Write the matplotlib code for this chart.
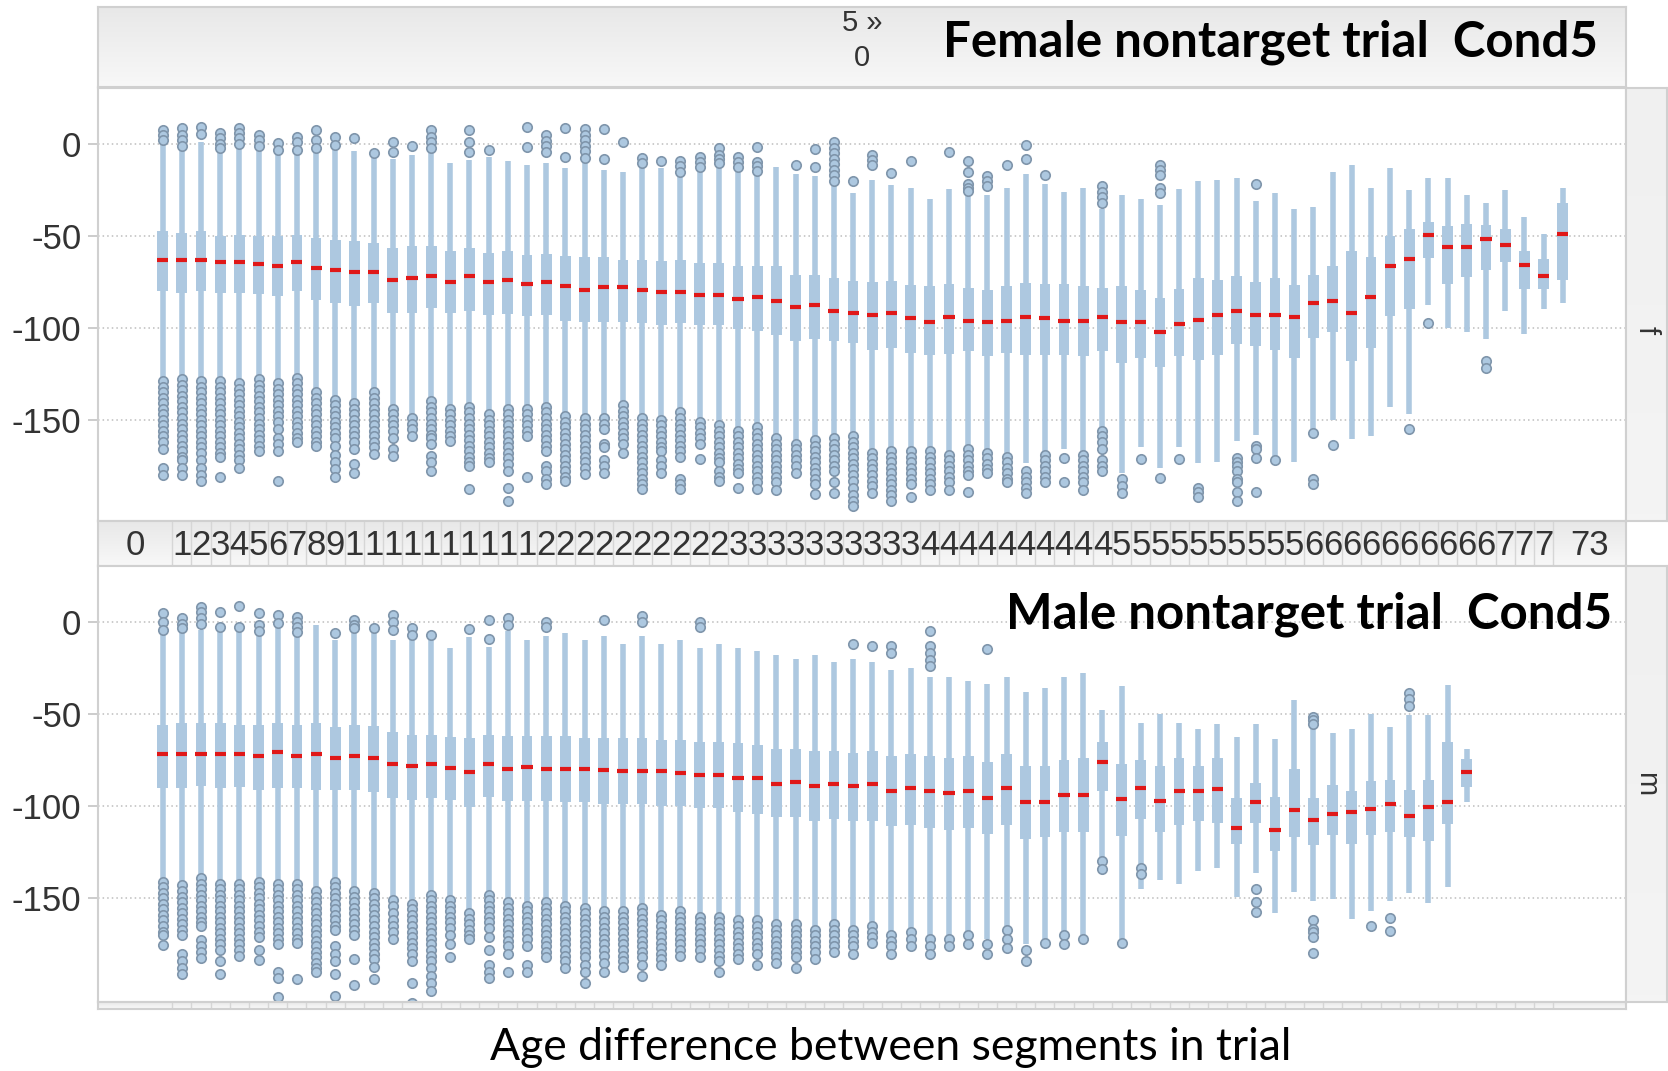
import numpy as np
import matplotlib
matplotlib.use('Agg')
import matplotlib.pyplot as plt
from matplotlib import font_manager as fm

# ---- data: box statistics per age difference (female panel: 0..73, male: 0..68)
f_hi = [1, -1, 1, -3, -1, -1, -3, -3, -2, -1,
        -4, -6, -8, -6, -3, -10.5, -8.7, -6.9, -9.2, -11.4,
        -10.5, -13.2, -9.6, -14.3, -15.4, -12, -13.2, -15.9, -13, -12,
        -13, -15, -12.3, -16.5, -17.2, -21.9, -26.8, -19.5, -22.6, -23.7,
        -30, -24.6, -26.8, -27.7, -23.7, -16.5, -21.7, -25.9, -23.7, -35.3,
        -27.7, -30, -33.1, -24.6, -20.4, -19.5, -18.6, -31.3, -26.8, -35.3,
        -34.4, -15.4, -11.4, -23.7, -13.2, -25, -18.6, -18.6, -28, -32.2,
        -25, -39.6, -49, -24]
f_q3 = [-47.6, -48.5, -47.6, -50.3, -49.4, -50, -50.3, -49.4, -51.2, -52,
        -53, -53.9, -56.6, -55.7, -55.7, -58.4, -56.6, -59.3, -58, -60.6,
        -59.9, -60.8, -61.7, -61.7, -62.9, -62.9, -63.8, -62.9, -64.7, -64.7,
        -66.5, -66.5, -66.5, -71, -71, -72.9, -74.3, -75, -74.3, -76.9,
        -77.4, -76.1, -78.3, -79.2, -77.4, -75.6, -76.1, -76.1, -77.4, -78.3,
        -77.4, -79.2, -83.7, -78.7, -72.9, -73.8, -72, -75.2, -72.9, -76.5,
        -71, -66.5, -58.4, -61.7, -50.3, -46, -42.5, -44.8, -43.6, -44,
        -46, -58.4, -62.6, -32.2]
f_med = [-63.3, -63.3, -63.3, -64.4, -64.4, -65.5, -66.5, -64.4, -67.4, -68.5,
         -69.6, -69.6, -73.8, -72.9, -71.6, -75, -71.6, -75, -74, -76,
         -75, -77, -79.2, -78, -78, -79.2, -80.3, -80.3, -82.3, -82.3,
         -84.3, -83.4, -85.5, -88.6, -87.5, -90.6, -91.9, -92.8, -91.9, -94.9,
         -96.9, -94, -96, -96.9, -96, -94, -94.9, -96, -96, -94,
         -96.9, -96.9, -102.2, -98, -95.8, -92.8, -90.6, -92.8, -92.8, -93.9,
         -86.4, -85.5, -91.9, -83.4, -66.5, -62.4, -49.7, -56, -56, -51.7,
         -55, -65.6, -71.8, -48.8]
f_q1 = [-80.1, -81, -80, -81, -81, -81.5, -82.8, -80, -84.6, -86.4,
        -88.2, -86.4, -91.9, -91.9, -89.2, -91.9, -91, -92.8, -92.4, -93.7,
        -92.8, -96, -96.7, -96.7, -96.7, -97.2, -98.2, -97.2, -98.2, -98.2,
        -100.4, -101.8, -104, -107.2, -106.3, -107.2, -108.1, -111.8, -110.8, -113.6,
        -114.5, -114.1, -112.7, -115.4, -113.6, -114.5, -114.5, -114.5, -115.4, -112.7,
        -119, -116.3, -121.3, -115.4, -117.7, -114.5, -109, -109.6, -111.8, -116.6,
        -105.4, -102, -118, -110.8, -93.7, -89.5, -62, -76.1, -72.5, -68.4,
        -64.4, -78.8, -78.7, -73.8]
f_lo = [-127, -127, -127, -128, -129, -127, -129, -126, -134, -138,
        -140, -134, -143, -147, -139, -143, -142, -146, -143, -143,
        -142.5, -147, -148.5, -148, -141.6, -148.8, -149.7, -145, -150.6, -152.4,
        -155, -153.3, -159.7, -162.4, -160.6, -159.7, -158.8, -167.8, -166.9, -166.9,
        -166.9, -168.7, -166, -167.8, -169.6, -173.2, -168.7, -166, -168.7, -155,
        -178.7, -165, -176, -164.7, -173.2, -173, -161.5, -158.4, -170.5, -173,
        -156, -150, -160.6, -158.8, -143, -147, -87.3, -100, -102, -106.3,
        -90.6, -103.3, -89.5, -86.4]
f_out = [
    [7.6, 4.9, 2.2, -129, -132, -135, -138, -141, -144, -147, -150, -153, -156, -159, -162, -166, -176, -180],
    [8.5, 5, 2, -1.4, -128, -131, -134, -137, -140, -143, -146, -149, -152, -155, -158, -161, -164, -167, -170, -172, -176, -180],
    [9.4, 5.2, -129, -132, -135, -138, -141, -144, -147, -150, -153, -156, -159, -162, -165, -168, -172, -176, -180, -183],
    [5.8, 3, 0, -2.4, -129, -132, -135, -138, -141, -144, -147, -150, -153, -156, -159, -162, -165, -168, -170, -181],
    [8.5, 6, 3, 0, -130, -133, -136, -139, -142, -145, -148, -151, -154, -157, -160, -163, -166, -169, -172, -176],
    [4.9, 2, -1.4, -128, -131, -134, -137, -140, -143, -146, -149, -152, -155, -158, -161, -164, -167],
    [0.4, -3.3, -130, -133, -136, -139, -142, -145, -148, -151, -155, -160, -163, -167, -183],
    [4, 1, -3.3, -127, -130, -133, -136, -139, -142, -145, -148, -151, -154, -157, -160, -162],
    [7.6, 2.2, -2.4, -135, -138, -141, -144, -147, -150, -153, -156, -159, -162, -164],
    [4, -0.5, -139, -142, -145, -148, -151, -154, -157, -160, -164, -169, -173, -177, -181],
    [3.4, -141, -144, -147, -150, -153, -156, -159, -162, -166, -174, -178.7],
    [-5, -135, -138, -141, -144, -147, -150, -153, -156, -159, -162, -165, -168.7],
    [1.3, -4.2, -144, -147, -150, -153, -156, -160, -166, -169.6],
    [-0.9, -149, -152, -155, -158.8],
    [7.6, 4, 1, -2, -140, -143, -146, -149, -152, -155, -158, -160, -163, -169.6, -173, -177.8],
    [-144, -147, -150, -153, -156, -159, -161.5],
    [7.6, 1.3, -4.2, -143, -146, -149, -152, -155, -158, -161, -164, -167, -170, -173, -175, -187.7],
    [-3.3, -147, -150, -153, -156, -159, -162, -165, -168, -171, -173],
    [-144, -147, -150, -153, -156, -159, -162, -165, -168, -171, -174, -178, -187, -194],
    [9.4, -1.8, -144, -147, -150, -153, -156, -159, -181],
    [4.9, 1.6, -1.3, -4.2, -143, -146, -149, -152, -155, -158, -161, -164, -167, -175, -178, -182, -185],
    [8.5, -7.2, -148, -151, -154, -157, -160, -163, -166, -169, -172, -175, -178, -181, -183],
    [8, 5, 2, -1, -4, -7.4, -149, -152, -155, -158, -161, -164, -167, -170, -173, -176, -179.6],
    [8, -8.1, -149, -152, -155, -163, -165, -172, -175, -178.7],
    [1.3, -142, -145, -148, -151, -154, -157, -160, -163, -167.8],
    [-7.8, -10.5, -149, -152, -155, -158, -161, -164, -167, -170, -173, -176, -179, -182, -185, -187.7],
    [-9.2, -150, -153, -156, -159, -162, -165, -167, -172, -175, -179],
    [-9.2, -12, -15.4, -146, -149, -152, -155, -158, -161, -164, -167, -170, -182, -185, -187.7],
    [-6.9, -9.6, -12.3, -151, -154, -157, -160, -163, -171.4],
    [-2.4, -6, -8, -10.5, -153, -156, -159, -162, -165, -168, -171, -173, -177.8, -181, -183],
    [-6.9, -9.6, -12.3, -156, -159, -162, -165, -168, -171, -174, -177, -179, -186.8],
    [-1.8, -9.6, -12, -14.6, -154, -157, -160, -163, -166, -169, -172, -175, -178, -181, -184, -187.7],
    [-160, -163, -166, -169, -172, -175, -178, -181, -184, -188],
    [-11.4, -163, -166, -169, -172, -175, -178.7],
    [-2.7, -12.3, -161, -164, -167, -170, -173, -176, -179, -182, -185, -190.4],
    [1.3, -2, -5, -8, -11, -14, -17, -20.4, -160, -163, -166, -169, -172, -175, -178, -184, -190],
    [-19.9, -159, -162, -165, -168, -171, -174, -177, -180, -183, -187, -191, -194, -197],
    [-6, -8.7, -11.4, -168, -171, -174, -177, -180, -183, -186, -190],
    [-15.6, -167, -170, -173, -176, -179, -182, -185, -188, -191, -194],
    [-9.2, -167, -170, -173, -176, -179, -182, -185, -192],
    [-167, -170, -173, -176, -179, -182, -185, -188],
    [-4.2, -169, -172, -175, -178, -181, -184, -188],
    [-9.2, -15.4, -22, -24, -25.5, -166, -169, -172, -175, -178, -180, -189],
    [-17.2, -20, -23.1, -168, -171, -174, -177, -179],
    [-11.4, -170, -173, -176, -179, -182, -184],
    [-0.5, -8.1, -178, -181, -184, -187, -190],
    [-16.8, -169, -172, -175, -178, -181, -184],
    [-171, -184],
    [-169, -172, -175, -178, -181, -184, -188],
    [-23.1, -26, -29, -32.2, -156, -159, -162, -166, -172, -175, -178],
    [-182, -186, -190],
    [-171.4],
    [-11.4, -14, -17, -24, -26.8, -181.4],
    [-171.4],
    [-186.8, -189, -192],
    [],
    [-170.5, -173, -175, -178, -182, -184, -189.5, -194],
    [-21.9, -164, -166, -170.5, -189.5],
    [-172],
    [],
    [-157.3, -182, -185],
    [-163.7],
    [], [], [],
    [-155],
    [-97.3],
    [], [],
    [-118, -121.7],
    [], [], [], [],
]

m_hi = [-7.2, -4.5, -4.5, -5.4, -5.4, -6.3, -2.7, -6.3, -1.8, -10,
        -4.5, -4.5, -10, -10, -10, -14.5, -8.1, -13.6, -5, -10,
        -8, -6, -10, -8, -12, -8, -12, -10, -14, -12,
        -14, -16, -18, -20, -18, -22, -20, -22, -26, -25,
        -30, -30, -32, -34, -30, -38, -36, -30, -28, -48,
        -35, -55, -50, -55, -58, -55.2, -62.4, -55.2, -63.8, -42.5,
        -58.4, -60.6, -58.4, -50.1, -57.3, -50.6, -50.6, -34.4, -69.1]
m_q3 = [-56, -55, -55, -55, -56, -56, -55, -56, -55, -57,
        -56, -56.6, -59.7, -61.5, -61.5, -62.4, -63.3, -61.5, -62, -62,
        -62, -62, -63, -63, -63, -63, -64, -64, -65, -65,
        -66, -67, -69, -69, -70, -70, -71, -70, -73, -72,
        -73, -74, -73, -76, -72, -78, -78, -75, -74, -65,
        -77, -75, -78, -74, -78, -74.1, -95.8, -87.7, -94.9, -79.6,
        -95.8, -88.6, -91.7, -86.3, -85.9, -91, -85.9, -65.1, -74.5]
m_med = [-72, -72, -72, -72, -72, -73, -70.9, -73, -72, -74.1,
         -73, -74.1, -77.2, -78.3, -77.2, -79.2, -81.4, -77.2, -79.6, -79,
         -80, -80, -80, -80.5, -81, -80.8, -81, -82, -83, -83,
         -84.8, -85, -88, -87, -89, -88, -89, -88, -92, -90,
         -92, -93, -92, -95.6, -90, -98, -98, -94, -94, -76,
         -96, -90, -97, -92, -92, -90.8, -111.6, -98, -112.7, -102.2,
         -107.6, -104.5, -103.4, -101.3, -99.1, -105.4, -100.4, -98, -81.4]
m_q1 = [-90.4, -90.4, -89, -90.4, -89.5, -91.3, -90.4, -90.4, -91.3, -91.3,
        -91.3, -92.2, -95.8, -96.7, -95.8, -96.7, -100.4, -94.9, -97, -97,
        -97, -98, -98, -99, -99, -99, -100, -100, -101, -101,
        -103, -104, -106, -106, -108, -107, -108, -108, -111, -110,
        -112, -113, -112, -115, -110, -118, -117, -114, -114, -92,
        -116, -107, -114, -110, -108, -109.4, -120.3, -109.4, -124.2, -116.6,
        -121.2, -115.7, -120.6, -115.7, -113.9, -116.6, -119, -109.8, -89.5]
m_lo = [-140, -142, -137.4, -141, -141, -140, -141, -141, -144.7, -140,
        -144.7, -145.6, -150, -151.9, -147.4, -150, -157.3, -147.4, -150, -152,
        -150, -152, -153, -155, -155, -153, -157, -155, -158, -158,
        -160, -160, -162, -162, -165, -162, -165, -163, -168, -166,
        -170, -170, -168, -172, -165, -175, -172, -168, -170, -128,
        -172, -145, -140, -142, -135, -133.8, -149.2, -136.5, -157.9, -146.5,
        -151.4, -150.6, -161, -156.8, -151.4, -147, -152.4, -144.1, -98]
m_out = [
    [4.5, 0, -4.5, -141, -144, -147, -150, -153, -156, -159, -162, -165, -168, -170, -175.4],
    [1.8, -1, -3.6, -143, -146, -149, -152, -155, -158, -161, -164, -167, -170, -180, -184, -188, -190.8],
    [8.1, 5, 2, -1, -139, -142, -145, -148, -151, -154, -157, -160, -163, -165, -172.7, -176, -179, -182.6],
    [5.4, -2.7, -142, -145, -148, -151, -154, -157, -160, -163, -166, -169, -172, -175, -178, -184, -190.8],
    [8.7, -2.7, -142, -145, -148, -151, -154, -157, -160, -163, -166, -169, -172, -175, -178, -181],
    [4.5, -2, -5, -141, -144, -147, -150, -153, -156, -159, -162, -165, -168, -171, -178, -183.5],
    [3.6, -0.9, -142, -145, -148, -151, -154, -157, -160, -163, -166, -169, -172, -175, -190, -193, -203.4],
    [2.7, 0, -3, -5.4, -142, -145, -148, -151, -154, -157, -160, -163, -166, -169, -172, -174, -194],
    [-146, -149, -152, -155, -158, -161, -164, -167, -170, -173, -176, -179, -182, -185, -188, -190],
    [-6.3, -141, -144, -147, -150, -153, -156, -159, -162, -165, -167, -176, -180, -184, -191, -203],
    [0.9, -1.8, -3.6, -146, -149, -152, -155, -158, -161, -164, -167, -170, -183, -197],
    [-3.3, -147, -150, -153, -156, -159, -162, -165, -168, -171, -174, -177, -180, -183, -187, -194],
    [3.6, 0, -4.5, -151, -154, -158, -162, -165, -168, -172],
    [-3.3, -7.2, -153, -156, -159, -162, -165, -168, -171, -174, -177, -180, -184, -196, -207],
    [-7.2, -148, -151, -154, -157, -160, -163, -166, -169, -172, -175, -178, -181, -184, -188, -192, -196, -200],
    [-151, -154, -157, -160, -163, -166, -170, -175, -182],
    [-4, -158, -161, -164, -167, -170, -172],
    [0.9, -9.4, -148, -151, -154, -157, -160, -163, -166, -171, -178, -186, -190, -193],
    [2, -2, -152, -155, -158, -161, -164, -167, -170, -173, -176, -180, -190],
    [-154, -157, -160, -163, -166, -169, -172, -176, -186, -190],
    [0, -3, -152, -155, -158, -161, -164, -167, -170, -173, -176, -179, -182],
    [-154, -157, -160, -163, -166, -169, -172, -175, -178, -181, -184, -188],
    [-155, -158, -161, -164, -167, -170, -173, -176, -179, -182, -186, -190, -196],
    [1, -157, -160, -163, -166, -169, -172, -175, -178, -181, -185, -190],
    [-157, -160, -163, -166, -169, -172, -175, -178, -181, -184, -187],
    [3, 0, -155, -158, -161, -164, -167, -170, -173, -176, -179, -182, -186, -192],
    [-159, -162, -165, -168, -171, -174, -177, -180, -183, -186],
    [-157, -160, -163, -166, -169, -172, -175, -178, -181],
    [0, -3, -160, -163, -166, -169, -172, -175, -178, -182],
    [-160, -163, -166, -169, -172, -175, -178, -181, -184, -190],
    [-162, -165, -168, -171, -174, -177, -180, -183],
    [-162, -165, -168, -171, -174, -177, -180, -186],
    [-164, -167, -170, -173, -176, -179, -182, -185],
    [-164, -167, -170, -173, -176, -179, -182, -188],
    [-167, -170, -173, -176, -179, -183],
    [-164, -167, -170, -173, -176, -179],
    [-12, -167, -170, -173, -176, -180],
    [-13, -165, -168, -171, -174],
    [-13, -17, -170, -173, -176, -180],
    [-168, -172, -176],
    [-5, -13, -17, -21, -24, -172, -176, -180],
    [-172, -176],
    [-170, -175],
    [-15, -175, -180],
    [-167, -172, -177],
    [-178, -184],
    [-174],
    [-170, -175],
    [-172],
    [-130, -134],
    [-174],
    [-133.5, -137],
    [], [], [],
    [], [],
    [-144.7, -151.9, -157.3],
    [], [],
    [-51.5, -53.5, -55.2, -161.5, -166.4, -168.5, -171, -179.6],
    [], [],
    [-165.1],
    [-160.4, -167.6],
    [-38.9, -42, -45.6],
    [], [], [],
]

ages = list(range(74))
y_ticks = [0, -50, -100, -150]

BOX = '#adc8e0'
EDGE = '#7f95ab'
RED = '#e01818'
GRID = '#bdbdbd'
BORDER = '#d0d0d0'

W, H = 1668, 1071
XLIM = (-3.37, 76.3)


def pick_font(names):
    avail = {f.name for f in fm.fontManager.ttflist}
    for n in names:
        if n in avail:
            return n
    return 'DejaVu Sans'


plt.rcParams['font.family'] = ['Liberation Sans', 'DejaVu Sans']
plt.rcParams['axes.unicode_minus'] = False
TITLE_FONT = pick_font(['Lato', 'Open Sans'])


def box(x0, y0, x1, y1):
    """pixel box (top-left origin) -> figure rect"""
    return [x0 / W, 1 - y1 / H, (x1 - x0) / W, (y1 - y0) / H]


def gray_strip(ax, top='#f8f8f8', bottom='#e8e8e8'):
    grad = np.linspace(0, 1, 64).reshape(-1, 1)
    cmap = matplotlib.colors.LinearSegmentedColormap.from_list('g', [top, bottom])
    ax.imshow(grad, aspect='auto', cmap=cmap, extent=[0, 1, 1, 0],
              transform=ax.transAxes, zorder=0)
    ax.set_xticks([])
    ax.set_yticks([])
    for s in ax.spines.values():
        s.set_color(BORDER)
        s.set_linewidth(1.5)


def draw_panel(ax, hi, q3, med, q1, lo, outliers, ylim):
    """Draws one facet of box plots."""
    x = np.array(ages[:len(med)])
    q3 = np.array(q3)
    q1 = np.array(q1)
    ax.vlines(x, lo, hi, color=BOX, lw=4.0, zorder=2)
    ax.bar(x, q3 - q1, bottom=q1, width=0.56, color=BOX, zorder=2)
    ox = [x[i] for i, vals in enumerate(outliers) for v in vals]
    oy = [v for vals in outliers for v in vals]
    ax.scatter(ox, oy, s=46, facecolor=BOX, edgecolor=EDGE, lw=1.2, zorder=3)
    ax.hlines(med, x - 0.29, x + 0.29, color=RED, lw=3.0, zorder=4)

    ax.set_xlim(*XLIM)
    ax.set_ylim(*ylim)
    ax.set_xticks([])
    ax.set_yticks(y_ticks)
    ax.set_yticklabels([str(t) for t in y_ticks])
    ax.tick_params(axis='y', labelsize=25, labelcolor='#333333', color='#c4c4c4',
                   length=7, width=1.2, pad=5)
    ax.yaxis.grid(True, ls=(0, (1, 2)), color=GRID, lw=1.1)
    ax.set_axisbelow(True)
    for s in ax.spines.values():
        s.set_color(BORDER)
        s.set_linewidth(1.5)


fig = plt.figure(figsize=(W / 100, H / 100), dpi=100)

# header strip
ax_head = fig.add_axes(box(98, 7, 1626, 87))
gray_strip(ax_head)
fig.text(862 / W, 1 - 23 / H, '5 »', ha='center', va='center', fontsize=21, color='#333333')
fig.text(862 / W, 1 - 58 / H, '0', ha='center', va='center', fontsize=21, color='#333333')
fig.text(1598 / W, 1 - 42 / H, 'Female nontarget trial  Cond5', ha='right', va='center',
         fontsize=35.5, fontweight='bold', family=TITLE_FONT, color='black')

# top panel (female)
ax_f = fig.add_axes(box(98, 88, 1626, 521))
draw_panel(ax_f, f_hi, f_q3, f_med, f_q1, f_lo, f_out, (-205, 30.4))

# category label strip between panels
ax_lab = fig.add_axes(box(98, 521, 1626, 566))
gray_strip(ax_lab)
ax_lab.set_xlim(*XLIM)
ax_lab.set_ylim(0, 1)
ax_lab.vlines(np.array(ages[:73]) + 0.5, 0, 1, color='#d6d6d6', lw=1, zorder=1)
for a in ages:
    if a == 0:
        xpos, txt = (XLIM[0] + 0.5) / 2, str(a)
    elif a == ages[-1]:
        xpos, txt = (a - 0.5 + XLIM[1]) / 2, str(a)
    else:
        xpos, txt = a, str(a)[0]
    ax_lab.text(xpos, 0.45, txt, ha='center', va='center', fontsize=25, color='#333333', zorder=2)

# bottom panel (male)
ax_m = fig.add_axes(box(98, 566, 1626, 1002))
draw_panel(ax_m, m_hi, m_q3, m_med, m_q1, m_lo, m_out, (-206.2, 30.2))
ax_m.text(1612 / W, 1 - 614 / H, 'Male nontarget trial  Cond5', transform=fig.transFigure,
          ha='right', va='center', fontsize=35.5, fontweight='bold', family=TITLE_FONT,
          color='black', zorder=5)

# thin strip under the bottom panel
ax_base = fig.add_axes(box(98, 1002, 1626, 1009))
gray_strip(ax_base)
ax_base.set_xlim(*XLIM)
ax_base.vlines(np.array(ages[:73]) + 0.5, 0, 1, transform=ax_base.get_xaxis_transform(),
               color='#d6d6d6', lw=1)

# facet strips on the right
for rect, lab, ypos in [(box(1626, 88, 1667, 521), 'f', 0.44),
                        (box(1626, 566, 1667, 1002), 'm', 0.5)]:
    ax_s = fig.add_axes(rect)
    gray_strip(ax_s, '#f4f4f4', '#f0f0f0')
    ax_s.text(0.5, ypos, lab, transform=ax_s.transAxes, rotation=-90, ha='center', va='center',
              fontsize=21, color='#333333')

fig.text(891 / W, 1 - 1048 / H, 'Age difference between segments in trial', ha='center',
         va='center', fontsize=32, family=TITLE_FONT, color='black')

fig.savefig('out.png', dpi=100)
